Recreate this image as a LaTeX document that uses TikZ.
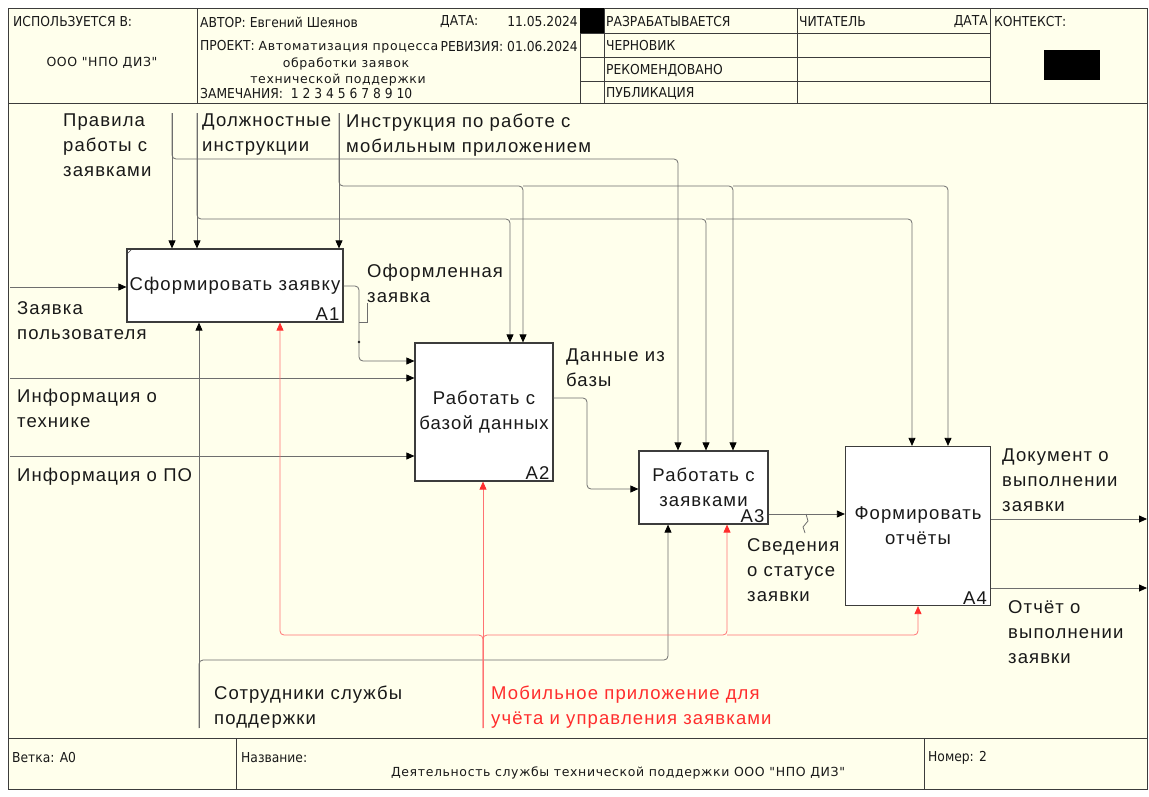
\documentclass[tikz,border=0pt]{standalone}
\usepackage{fontspec}
\setmainfont{Liberation Sans}
\newfontfamily\lblfont[LetterSpace=6]{Liberation Sans}
\newfontfamily\hdrfont{DejaVu Sans Condensed}
\newfontfamily\prjfont[LetterSpace=5]{DejaVu Sans}
\usetikzlibrary{arrows.meta}

\definecolor{paper}{RGB}{255,255,236}
\definecolor{rulecol}{RGB}{60,60,60}
\definecolor{wire}{RGB}{110,110,110}
\definecolor{redwire}{RGB}{255,115,115}
\definecolor{redtxt}{RGB}{255,45,45}
\definecolor{ink}{RGB}{25,25,25}

\tikzset{
  frame/.style={draw=rulecol, line width=1pt},
  fnbox/.style={draw=rulecol, fill=white, line width=1.2pt, inner sep=0pt,
    font=\lblfont\fontsize{18.5}{25}\selectfont, text=ink, align=center},
  boxnum/.style={anchor=south east, inner sep=0pt, xshift=-4pt, yshift=1.5pt,
    font=\lblfont\fontsize{18.5}{20}\selectfont, text=ink},
  lbl/.style={anchor=north west, inner sep=0pt, align=left,
    font=\lblfont\fontsize{18.5}{25}\selectfont, text=ink},
  redlbl/.style={lbl, text=redtxt},
  hdr/.style={inner sep=0pt, font=\hdrfont\fontsize{13.7}{15}\selectfont, text=ink},
  prj/.style={inner sep=0pt, font=\prjfont\fontsize{12.5}{14}\selectfont, text=ink},
  link/.style={draw=wire, line width=0.8pt, rounded corners=4pt},
  redlink/.style={draw=redwire, line width=0.8pt, rounded corners=4pt},
  arrowend/.style={-{Triangle[length=8pt,width=7pt,color=black]}},
  redend/.style={-{Triangle[length=8pt,width=7pt,color=redtxt]}}
}

\begin{document}
\begin{tikzpicture}[x=1pt,y=-1pt]
\useasboundingbox (0,0) rectangle (1149,796);
\fill[white] (0,0) rectangle (1149,796);

% ---- sheet frame ----
\draw[frame, fill=paper] (8,8) rectangle (1147,789);

% header grid
\draw[frame] (8,103) -- (1147,103);
\draw[frame] (197,8) -- (197,103);
\draw[frame] (580,8) -- (580,103);
\draw[frame] (604,8) -- (604,103);
\draw[frame] (797,8) -- (797,103);
\draw[frame] (990,8) -- (990,103);
\draw[frame] (580,33) -- (990,33);
\draw[frame] (580,57) -- (990,57);
\draw[frame] (580,81) -- (990,81);
\fill[black] (580,8) rectangle (604,33);
\fill[black] (1044,50) rectangle (1100,80);

% header texts
\node[hdr, anchor=west] (used) at (13,22) {ИСПОЛЬЗУЕТСЯ В:};
\node[prj] (org) at (102,63) {ООО "НПО ДИЗ"};
\node[hdr, anchor=west] (author) at (200,22) {АВТОР: Евгений Шеянов};
\node[hdr, anchor=west] (datek) at (440,22) {ДАТА:};
\node[hdr, anchor=east] (datev) at (578,22) {11.05.2024};
\node[hdr, anchor=west] (project) at (200,47) {ПРОЕКТ: {\prjfont\fontsize{12.5}{14}\selectfont Автоматизация процесса}};
\node[prj] (proj2) at (346,64) {обработки заявок};
\node[prj] (proj3) at (338,80) {технической поддержки};
\node[hdr, anchor=west] (notes) at (200,94) {ЗАМЕЧАНИЯ:\ \ 1 2 3 4 5 6 7 8 9 10};
\node[hdr, anchor=east] (rev) at (578,47) {РЕВИЗИЯ: 01.06.2024};
\node[hdr, anchor=west] (st1) at (606,22) {РАЗРАБАТЫВАЕТСЯ};
\node[hdr, anchor=west] (st2) at (606,46) {ЧЕРНОВИК};
\node[hdr, anchor=west] (st3) at (606,70) {РЕКОМЕНДОВАНО};
\node[hdr, anchor=west] (st4) at (606,94) {ПУБЛИКАЦИЯ};
\node[hdr, anchor=west] (reader) at (799,22) {ЧИТАТЕЛЬ};
\node[hdr, anchor=east] (rdate) at (988,22) {ДАТА};
\node[hdr, anchor=west] (ctx) at (994,22) {КОНТЕКСТ:};

% footer grid and texts
\draw[frame] (8,738) -- (1147,738);
\draw[frame] (236,738) -- (236,789);
\draw[frame] (924,738) -- (924,789);
\node[hdr, anchor=west] (branch) at (12,758) {Ветка: A0};
\node[hdr, anchor=west] (titlek) at (241,758) {Название:};
\node[prj] (title) at (618,773) {Деятельность службы технической поддержки ООО "НПО ДИЗ"};
\node[hdr, anchor=west] (number) at (928,758) {Номер: 2};

% ---- function boxes ----
\node[fnbox, minimum width=216pt, minimum height=73pt] (A1) at (235,285.5) {Сформировать заявку};
\node[fnbox, minimum width=138pt, minimum height=138pt] (A2) at (484,412) {Работать с\\базой данных};
\node[fnbox, minimum width=129pt, minimum height=73pt] (A3) at (703.5,487.5) {Работать с\\заявками};
\node[fnbox, minimum width=145pt, minimum height=159pt] (A4) at (918,526) {Формировать\\отчёты};
\node[boxnum] (n1) at (A1.south east) {A1};
\node[boxnum] (n2) at (A2.south east) {A2};
\node[boxnum] (n3) at (A3.south east) {A3};
\node[boxnum] (n4) at (A4.south east) {A4};
\draw[draw=rulecol, line width=0.6pt] (127,254) -- (132,249);

% ---- controls ----
\coordinate (cR) at (172,113);
\coordinate (cD) at (197,113);
\coordinate (cI) at (339,113);
\draw[link, arrowend] (cR) -- (cR |- A1.north);
\draw[link, arrowend] (cD) -- (cD |- A1.north);
\draw[link, arrowend] (cI) -- (cI |- A1.north);
\draw[link, arrowend] (cR) -- (172,159) -- (678,159) -- (678,0 |- A3.north);
\draw[link, arrowend] (cD) -- (197,219) -- (510,219) -- (510,0 |- A2.north);
\draw[link, arrowend] (510,219) -- (706,219) -- (706,0 |- A3.north);
\draw[link, arrowend] (706,219) -- (912,219) -- (912,0 |- A4.north);
\draw[link, arrowend] (cI) -- (339,186) -- (523,186) -- (523,0 |- A2.north);
\draw[link, arrowend] (523,186) -- (733,186) -- (733,0 |- A3.north);
\draw[link, arrowend] (733,186) -- (948,186) -- (948,0 |- A4.north);

% ---- inputs ----
\coordinate (iZ) at (10,287);
\coordinate (iT) at (10,378);
\coordinate (iP) at (10,456);
\draw[link, arrowend] (iZ) -- (iZ -| A1.west);
\draw[link, arrowend] (iT) -- (iT -| A2.west);
\draw[link, arrowend] (iP) -- (iP -| A2.west);

% ---- outputs ----
\draw[link, arrowend] (A1.east |- 0,286) -- (359,286) -- (359,361) -- (A2.west |- 0,361);
\fill[ink] (359,342) circle (1.3pt);
\draw[draw=wire, line width=0.8pt] (367,303) -- (367,322) -- (359,322);
\draw[link, arrowend] (A2.east |- 0,398) -- (587,398) -- (587,489) -- (A3.west |- 0,489);
\draw[link, arrowend] (A3.east |- 0,514) -- (A4.west |- 0,514);
\draw[draw=wire, line width=0.8pt] (806,514) -- (808,521) -- (803,527) -- (805,533);
\coordinate (oD) at (1147,519);
\coordinate (oO) at (1147,588);
\draw[link, arrowend] (A4.east |- oD) -- (oD);
\draw[link, arrowend] (A4.east |- oO) -- (oO);

% ---- mechanisms ----
\coordinate (mS) at (199,728);
\coordinate (mM) at (483,728);
\draw[link, arrowend] (mS) -- (mS |- A1.south);
\draw[link, arrowend] (mS) -- (199,660) -- (668,660) -- (668,0 |- A3.south);
\draw[redlink, redend] (mM) -- (mM |- A2.south);
\draw[redlink, redend] (mM) -- (483,635) -- (280,635) -- (280,0 |- A1.south);
\draw[redlink, redend] (mM) -- (483,635) -- (727,635) -- (727,0 |- A3.south);
\draw[redlink, redend] (727,635) -- (918,635) -- (918,0 |- A4.south);

% ---- arrow labels ----
\node[lbl] (lR) at (63,113.5) {Правила\\работы с\\заявками};
\node[lbl] (lD) at (202,113.5) {Должностные\\инструкции};
\node[lbl] (lI) at (346,113.5) {Инструкция по работе с\\мобильным приложением};
\node[lbl] (lZ) at (17,301.5) {Заявка\\пользователя};
\node[lbl] (lF) at (367,263.5) {Оформленная\\заявка};
\node[lbl] (lT) at (17,388.5) {Информация о\\технике};
\node[lbl] (lP) at (17,467.5) {Информация о ПО};
\node[lbl] (lB) at (566,349) {Данные из\\базы};
\node[lbl] (lS) at (747,538.5) {Сведения\\о статусе\\заявки};
\node[lbl] (lDoc) at (1002,448.5) {Документ о\\выполнении\\заявки};
\node[lbl] (lRep) at (1008,600.5) {Отчёт о\\выполнении\\заявки};
\node[lbl] (lStaff) at (214,685.5) {Сотрудники службы\\поддержки};
\node[redlbl] (lApp) at (491,685.5) {Мобильное приложение для\\учёта и управления заявками};
\end{tikzpicture}
\end{document}
